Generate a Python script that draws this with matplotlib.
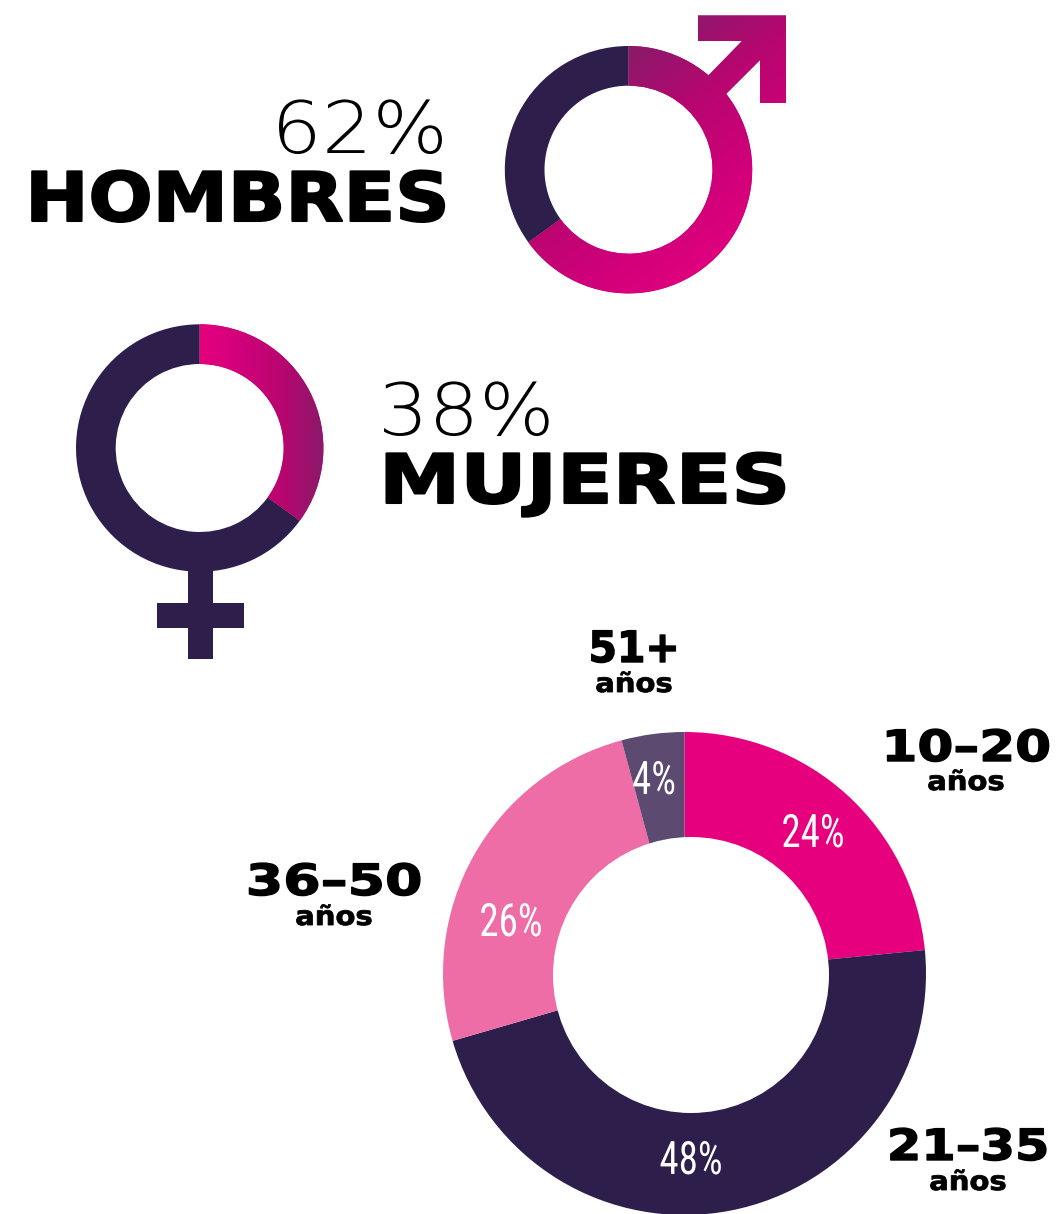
import numpy as np
import matplotlib
matplotlib.use("Agg")
import matplotlib.pyplot as plt
from matplotlib.colors import LinearSegmentedColormap
from matplotlib.patches import Circle, Polygon, Rectangle
from matplotlib.patheffects import AbstractPathEffect
from matplotlib.transforms import Affine2D

W, H = 1058, 1214

# --- data ---
men_pct = "62%"
women_pct = "38%"
men_values = [65, 35]      # arc shares as drawn in the picture
women_values = [35, 65]
age_labels = ["10–20", "21–35", "36–50", "51+"]
age_values = [23.45, 47.05, 25.3, 4.2]
age_pct_labels = ["24%", "48%", "26%", "4%"]
age_colors = ["#e6007e", "#2d1e4b", "#ee6da6", "#5c4a70"]
DARK = "#2d1e4b"
WIDE = ["DejaVu Sans"]
NARROW = ["Liberation Sans Narrow", "Roboto Condensed", "Liberation Sans"]

fig = plt.figure(figsize=(W / 100, H / 100), dpi=100, facecolor="white")
ax = fig.add_axes([0, 0, 1, 1])


def Y(py):
    return H - py


class Stretch(AbstractPathEffect):
    """Widen a text horizontally about its anchor; optional outline thickens the strokes."""

    def __init__(self, anchor_x, sx, stroke=0.0):
        super().__init__()
        self.anchor_x, self.sx, self.stroke = anchor_x, sx, stroke

    def draw_path(self, renderer, gc, tpath, affine, rgbFace=None):
        tr = affine + Affine2D().translate(-self.anchor_x, 0).scale(self.sx, 1).translate(self.anchor_x, 0)
        gc0 = renderer.new_gc()
        gc0.copy_properties(gc)
        if self.stroke > 0:
            gc0.set_linewidth(self.stroke)
            gc0.set_foreground(rgbFace)
        else:
            gc0.set_linewidth(0)
        renderer.draw_path(gc0, tpath, tr, rgbFace)
        gc0.restore()


def stext(x, py, s, size, sx, stroke=0.0, ha="center", family=WIDE, weight="normal", color="black"):
    ax.text(x, Y(py), s, ha=ha, va="baseline", fontsize=size, family=family, fontweight=weight, color=color,
            zorder=5, path_effects=[Stretch(x, sx, stroke)])


grad_cmap = LinearSegmentedColormap.from_list("g", ["#8a1a6a", "#b8066f", "#d0007a", "#e6007e"])
xx, yy = np.meshgrid(np.arange(W), np.arange(H))


def gradient(t, patch):
    im = ax.imshow(t, cmap=grad_cmap, vmin=0, vmax=1, extent=(0, W, 0, H), origin="upper",
                   aspect="auto", zorder=3, interpolation="bilinear")
    im.set_clip_path(patch)


# --- men donut ---
men_c = (628.5, 169.7)
w1, _ = ax.pie(men_values, colors=["#d0007a", DARK], startangle=90, counterclock=False,
               center=(men_c[0], Y(men_c[1])), radius=123.7,
               wedgeprops=dict(width=39.7, linewidth=0), frame=True)
t_men = np.clip(((xx - 650) * 0.6 + (yy - 35) * 0.8) / 240.0, 0, 1)
arrow_px = [(698, 15.5), (786, 15.5), (786, 103), (760, 103), (760, 60), (721, 99),
            (703, 81), (742, 41), (698, 41)]
arrow = Polygon([(x, Y(y)) for x, y in arrow_px], closed=True, fc="#b0056e", ec="none", zorder=2)
ax.add_patch(arrow)
gradient(t_men, w1[0])
gradient(t_men, arrow)

# --- women donut ---
wom_c = (199.7, 448)
ax.add_patch(Rectangle((187.7, Y(659)), 25.6, 100, fc=DARK, ec="none", zorder=1))
ax.add_patch(Rectangle((156.7, Y(628.3)), 87.6, 25.3, fc=DARK, ec="none", zorder=1))
w2, _ = ax.pie(women_values, colors=["#c00078", DARK], startangle=90, counterclock=False,
               center=(wom_c[0], Y(wom_c[1])), radius=123.7,
               wedgeprops=dict(width=39.7, linewidth=0), frame=True)
t_wom = np.clip(1 - (xx - 200) / 123.0, 0, 1)
gradient(t_wom, w2[0])

# --- age donut ---
age_c = (684.5, 973.5)
ax.pie(age_values, colors=age_colors, startangle=90, counterclock=False,
       center=(age_c[0], Y(age_c[1])), radius=241.5, wedgeprops=dict(linewidth=0), frame=True)
ax.add_patch(Circle((691, Y(975)), 138, fc="white", ec="none", zorder=4))

# --- text ---
stext(448, 153, men_pct, 52, 1.1, ha="right", weight=200)
stext(449, 221, "HOMBRES", 49, 1.11, stroke=1.5, ha="right", weight="bold")
stext(378, 435, women_pct, 52, 1.1, ha="left", weight=200)
stext(379, 503, "MUJERES", 49, 1.2, stroke=1.5, ha="left", weight="bold")

label_pos = [(966, 761, 790, 1.2), (968, 1160, 1190, 1.15), (334, 895, 925, 1.25), (634, 662, 692, 0.95)]
for lab, (x, yb, ya, sx) in zip(age_labels, label_pos):
    stext(x, yb, lab, 31, sx, stroke=1.0, weight="bold")
    stext(x, ya, "años", 19, 1.1, stroke=0.6, weight="bold")

pct_pos = [(813, 847), (691, 1174), (511, 936), (654, 794)]
for lab, (x, yb) in zip(age_pct_labels, pct_pos):
    stext(x, yb, lab, 33, 0.85, family=NARROW, color="white")

ax.set_aspect("auto")
ax.set_xlim(0, W)
ax.set_ylim(0, H)
ax.axis("off")
fig.savefig("out.png", dpi=100, facecolor="white")
